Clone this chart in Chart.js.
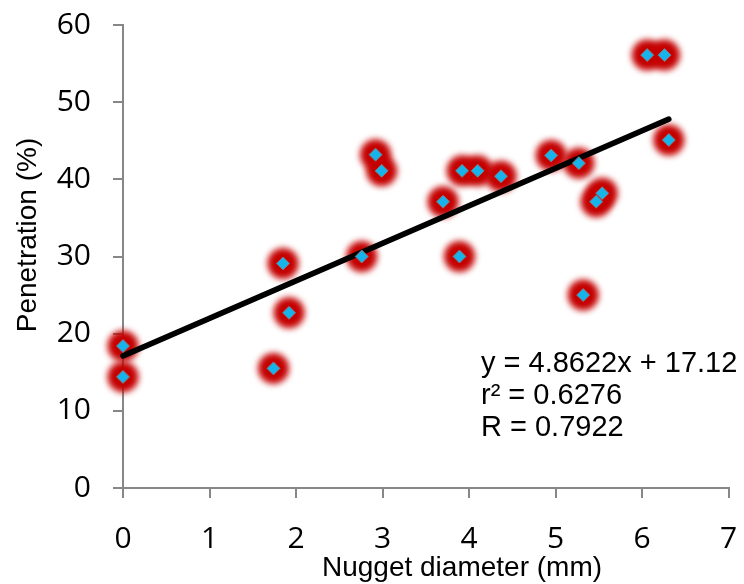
<!DOCTYPE html>
<html>
<head>
<meta charset="utf-8">
<script src="https://cdn.jsdelivr.net/npm/chart.js@4"></script>
<style>
  html, body { margin: 0; padding: 0; background: #ffffff; }
  canvas { display: block; }
</style>
</head>
<body>
<canvas id="chart" width="744" height="584"></canvas>
<script>
// Measured samples: nugget diameter (mm) vs. penetration (%)
const diameters  = [0, 0, 1.74, 1.85, 1.92, 2.76, 2.92, 2.99, 3.70, 3.89, 3.92, 4.10, 4.37, 4.95, 5.27, 5.32, 5.47, 5.54, 6.06, 6.26, 6.31];
const penetration = [18.4, 14.4, 15.5, 29.1, 22.7, 30.0, 43.2, 41.1, 37.1, 30.0, 41.1, 41.1, 40.4, 43.1, 42.1, 25.0, 37.1, 38.2, 56.1, 56.1, 45.1];

// Linear fit reported for the data
const fitSlope = 4.8622;
const fitIntercept = 17.12;
const fitText = ['y = 4.8622x + 17.12', 'r\u00B2 = 0.6276', 'R = 0.7922'];

// Axis settings and titles
const xRange = [0, 7];
const yRange = [0, 60];
const xStep = 1;
const yStep = 10;
const xTitle = 'Nugget diameter (mm)';
const yTitle = 'Penetration (%)';

const points = diameters.map((d, i) => ({ x: d, y: penetration[i] }));
const xFitEnd = Math.max(...diameters);
const fitPoints = [
  { x: 0, y: fitIntercept },
  { x: xFitEnd, y: fitSlope * xFitEnd + fitIntercept }
];

// Softens the red markers into a glow
const haloBlur = {
  id: 'haloBlur',
  beforeDatasetDraw(chart, args, opts) {
    if (args.index === opts.index) {
      chart.ctx.save();
      chart.ctx.filter = 'blur(' + opts.blur + 'px)';
    }
  },
  afterDatasetDraw(chart, args, opts) {
    if (args.index === opts.index) {
      chart.ctx.restore();
    }
  }
};

// Axis titles and the regression summary
const captions = {
  id: 'captions',
  afterDraw(chart) {
    const ctx = chart.ctx;
    ctx.save();
    ctx.fillStyle = '#000000';
    ctx.textBaseline = 'alphabetic';

    ctx.font = '28px "Liberation Sans", Arial, sans-serif';
    ctx.textAlign = 'center';
    ctx.fillText(xTitle, 462, 576);

    ctx.save();
    ctx.translate(36, 235);
    ctx.rotate(-Math.PI / 2);
    ctx.fillText(yTitle, 0, 0);
    ctx.restore();

    ctx.font = '29px "Liberation Sans", Arial, sans-serif';
    ctx.textAlign = 'left';
    const baselines = [372, 404, 436];
    fitText.forEach((line, i) => ctx.fillText(line, 481, baselines[i]));
    ctx.restore();
  }
};

const axisGrey = '#878787';
const tickFont = { family: '"Open Sans", "Noto Sans", sans-serif', size: 30 };

new Chart(document.getElementById('chart'), {
  type: 'scatter',
  data: {
    datasets: [
      {
        label: 'samples',
        data: points,
        order: 0,
        clip: false,
        pointStyle: 'rectRot',
        pointRadius: 6.5,
        pointHoverRadius: 6.5,
        backgroundColor: '#17b4ec',
        borderColor: '#8a7272',
        borderWidth: 1
      },
      {
        label: 'fit',
        data: fitPoints,
        order: 1,
        clip: false,
        showLine: true,
        borderColor: '#000000',
        borderWidth: 5.5,
        borderCapStyle: 'round',
        pointRadius: 0,
        pointHoverRadius: 0
      },
      {
        label: 'halo',
        data: points,
        order: 2,
        clip: false,
        pointStyle: 'circle',
        pointRadius: 15.5,
        pointHoverRadius: 15.5,
        backgroundColor: '#c40000',
        borderWidth: 0
      }
    ]
  },
  options: {
    responsive: false,
    animation: false,
    devicePixelRatio: 1,
    layout: { padding: { top: 25, right: 11, bottom: 0, left: 0 } },
    plugins: {
      legend: { display: false },
      tooltip: { enabled: false },
      haloBlur: { index: 2, blur: 3.2 }
    },
    scales: {
      x: {
        type: 'linear',
        min: xRange[0],
        max: xRange[1],
        afterFit(scale) {
          scale.height = 96;
          scale.paddingLeft = 0;
          scale.paddingRight = 0;
        },
        ticks: { stepSize: xStep, color: '#000000', font: tickFont, padding: 23, maxRotation: 0 },
        grid: { drawOnChartArea: false, drawTicks: true, tickLength: 10, tickColor: axisGrey, tickWidth: 2, lineWidth: 2, color: axisGrey },
        border: { display: true, color: axisGrey, width: 2 }
      },
      y: {
        type: 'linear',
        min: yRange[0],
        max: yRange[1],
        afterFit(scale) {
          scale.width = 123;
          scale.paddingTop = 0;
          scale.paddingBottom = 0;
        },
        ticks: { stepSize: yStep, color: '#000000', font: tickFont, padding: 22 },
        grid: { drawOnChartArea: false, drawTicks: true, tickLength: 10, tickColor: axisGrey, tickWidth: 2, lineWidth: 2, color: axisGrey },
        border: { display: true, color: axisGrey, width: 2 }
      }
    }
  },
  plugins: [haloBlur, captions]
});
</script>
</body>
</html>
